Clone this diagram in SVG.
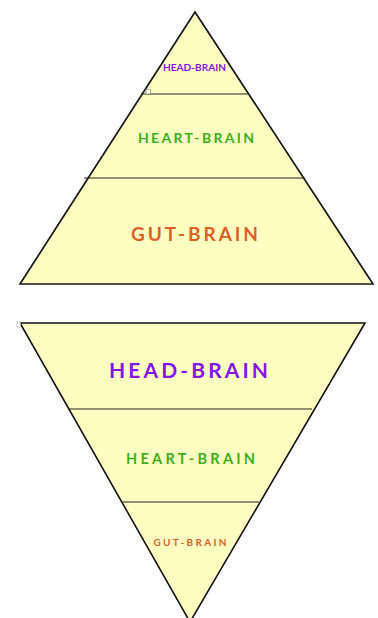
<svg xmlns="http://www.w3.org/2000/svg" width="378" height="618" viewBox="0 0 378 618">
<style>
.tri{fill:#ffffc2;stroke:#111;stroke-width:1.6;stroke-linejoin:miter}
.div{stroke:#222;stroke-width:1.2;fill:none}
.lbl{font-family:Lato,"Open Sans","DejaVu Sans",sans-serif;font-weight:bold;text-anchor:middle}
.head{fill:#8416e6}
.heart{fill:#3daf1c}
.gut{fill:#dc6128}
</style>
<rect width="378" height="618" fill="#ffffff"/>
<g id="pyramid">
<polygon class="tri" points="195,12 373,284 20,284" stroke="none"/>
<polyline class="div" stroke-width="1.6" stroke="#111" points="20,284 195,12 373,284"/>
<line x1="20" y1="284" x2="373" y2="284" stroke="#555" stroke-width="1"/>
</g>
<g id="inverted">
<polygon class="tri" points="20,323 365,323 190,622"/>
<rect x="17" y="322" width="3.5" height="5" fill="#fff" stroke="#999" stroke-width="0.5"/>
</g>
<g id="connectors">
<line class="div" x1="141" y1="94" x2="248" y2="94"/>
<rect x="146" y="89.5" width="4.5" height="4.5" fill="#fff" stroke="#777" stroke-width="0.6"/>
<line class="div" x1="84" y1="178" x2="305" y2="178"/>
<line class="div" x1="68" y1="409" x2="312" y2="409"/>
<line class="div" x1="121" y1="502" x2="259" y2="502"/>
</g>
<g id="top-head"><text class="lbl head" x="194.5" y="71" font-size="9" textLength="63" lengthAdjust="spacingAndGlyphs">HEAD-BRAIN</text></g>
<g id="top-heart"><text class="lbl heart" x="196" y="143" font-size="14" textLength="116" lengthAdjust="spacing">HEART-BRAIN</text></g>
<g id="top-gut"><text class="lbl gut" x="194.5" y="241" font-size="19" textLength="127" lengthAdjust="spacing">GUT-BRAIN</text></g>
<g id="bot-head"><text class="lbl head" x="188.5" y="378" font-size="21" textLength="159" lengthAdjust="spacing">HEAD-BRAIN</text></g>
<g id="bot-heart"><text class="lbl heart" x="190.5" y="464" font-size="14.5" textLength="129" lengthAdjust="spacing">HEART-BRAIN</text></g>
<g id="bot-gut"><text class="lbl gut" x="190" y="546" font-size="10" textLength="73" lengthAdjust="spacing">GUT-BRAIN</text></g>
</svg>
